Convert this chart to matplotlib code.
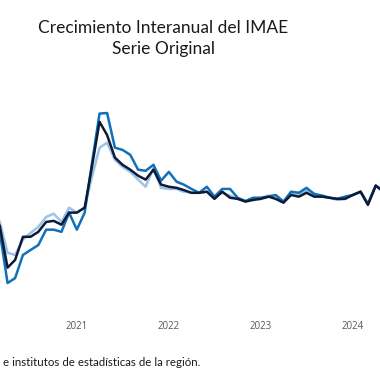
import matplotlib
matplotlib.use('Agg')
import matplotlib.pyplot as plt
import pandas as pd

# crecimiento interanual (%) desde marzo 2020
imae_dark = [-2.0, -9.6, -8.2, -4.0, -4.0, -3.1, -1.3, -1.1, -1.8, 0.4, 0.4, 1.3, 8.5,
             16.9, 14.5, 10.4, 9.1, 8.2, 7.1, 6.4, 8.2, 5.5, 5.1, 4.9, 4.5, 4.0, 4.0,
             4.2, 2.9, 4.2, 3.1, 2.9, 2.4, 2.7, 2.9, 3.3, 2.9, 2.2, 3.6, 3.3, 4.0,
             3.3, 3.3, 3.1, 2.9, 2.9, 3.6, 4.2, 1.8, 5.3, 4.2]
imae_blue = [-3.1, -12.4, -11.5, -7.3, -6.4, -5.5, -2.7, -2.7, -3.1, 0.4, -2.7, 0.4, 9.1,
             18.4, 18.5, 12.2, 11.8, 10.9, 8.2, 8.0, 9.1, 6.2, 7.8, 6.0, 5.5, 4.7, 4.0,
             5.1, 3.3, 4.7, 4.7, 3.1, 2.5, 3.1, 3.1, 3.3, 3.6, 2.4, 4.2, 4.0, 4.9,
             3.8, 3.5, 3.1, 2.9, 3.3, 3.6, 4.2, 2.0, 5.3, 4.4]
imae_light = [-1.3, -6.9, -7.3, -4.5, -3.3, -2.2, -0.4, 0.2, -1.3, 1.3, 0.4, 1.3, 6.7,
              12.2, 13.1, 10.0, 8.7, 7.8, 6.4, 5.1, 8.5, 4.9, 4.7, 4.7, 4.2, 4.0, 4.0,
              4.2, 3.3, 4.0, 3.5, 2.9, 2.5, 2.9, 3.1, 3.5, 3.5, 2.4, 4.0, 3.8, 4.4,
              3.5, 3.3, 3.1, 2.7, 2.9, 3.6, 4.2, 2.0, 5.3, 4.4]
fechas = pd.date_range('2020-03-01', periods=len(imae_dark), freq='MS')
years = ['2021', '2022', '2023', '2024']

fig = plt.figure(figsize=(3.8, 3.8), dpi=100)
ax = fig.add_axes([0, 1 - 310 / 380, 1, 230 / 380])

ax.plot(fechas, imae_light, color='#9DC3E6', lw=1.8, zorder=1)
ax.plot(fechas, imae_blue, color='#1170BA', lw=1.8, zorder=2)
ax.plot(fechas, imae_dark, color='#0D1B36', lw=1.8, zorder=3)

ax.set_xlim(pd.Timestamp('2020-03-02'), pd.Timestamp('2024-04-18'))
ax.set_ylim(-17.3, 24.5)
ax.set_xticks([pd.Timestamp(y + '-01-01') for y in years])
ax.set_xticklabels(years)
ax.tick_params(axis='x', length=0, pad=8, labelsize=7, labelcolor='#595959')
for lbl in ax.get_xticklabels():
    lbl.set_family('Open Sans')
ax.set_yticks([])
for s in ax.spines.values():
    s.set_visible(False)

fig.text(163.5 / 380, 1 - 33 / 380, 'Crecimiento Interanual del IMAE', ha='center',
         va='baseline', fontsize=12.5, family='Lato', color='#1a1a1a')
fig.text(163.5 / 380, 1 - 54 / 380, 'Serie Original', ha='center',
         va='baseline', fontsize=12.5, family='Lato', color='#1a1a1a')
fig.text(3 / 380, 1 - 366 / 380, 'e institutos de estadísticas de la región.', ha='left',
         va='baseline', fontsize=8.3, family='Lato', color='#1a1a1a')

fig.savefig('out.png', dpi=100)
